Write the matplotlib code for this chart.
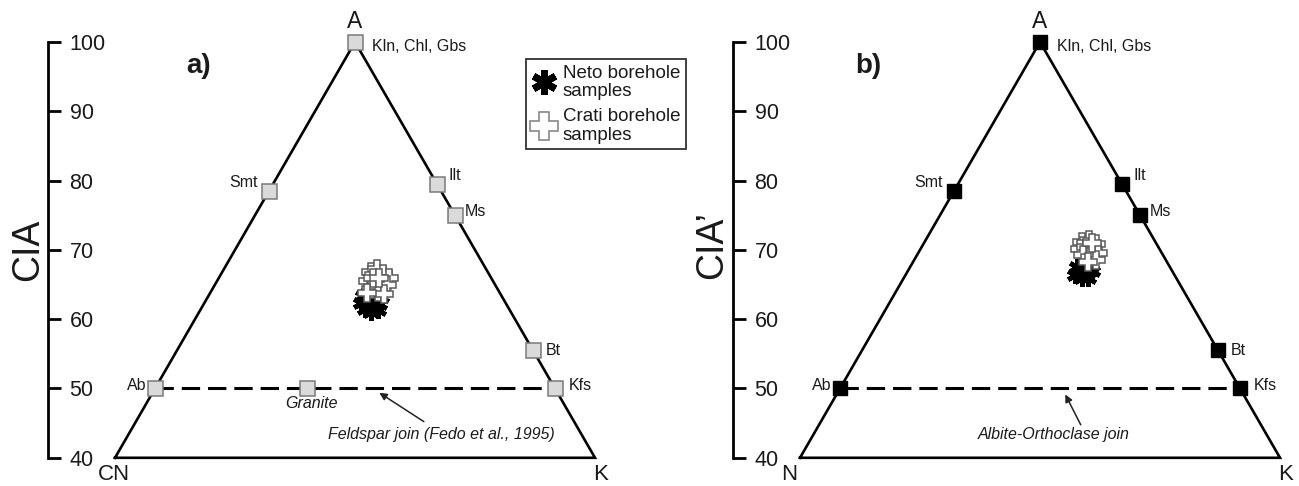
import matplotlib
matplotlib.use('Agg')
import matplotlib.pyplot as plt
from matplotlib.lines import Line2D

plt.rcParams['font.family'] = ['Liberation Sans', 'DejaVu Sans']

# ---------------- data (molar proportions, %) ----------------
# end-member minerals: A = Al2O3 (CIA / CIA'), K = K2O, remainder = CN (or N)
mineral_names = ['Kln, Chl, Gbs', 'Smt', 'Ilt', 'Ms', 'Bt', 'Ab', 'Kfs']
mineral_A = [100.0, 78.5, 79.5, 75.0, 55.5, 50.0, 50.0]
mineral_K = [0.0, 0.0, 20.5, 25.0, 44.5, 0.0, 50.0]
granite_A = [50.0]
granite_K = [19.0]

cia_ticks = [40, 50, 60, 70, 80, 90, 100]

# panel a) A-CN-K
crati_a_A = [66.8, 67.2, 66.5, 66.0, 65.5, 65.2, 64.8, 64.9, 64.3, 63.9, 63.6, 66.0, 65.9, 63.8]
crati_a_K = [18.6, 19.2, 20.3, 21.2, 18.9, 20.0, 21.0, 21.6, 19.8, 20.9, 21.8, 19.3, 20.1, 19.6]
neto_a_A = [63.4, 63.0, 62.8, 63.2, 62.4, 62.1, 61.8, 62.2, 61.4, 61.0, 61.3, 62.6]
neto_a_K = [19.3, 20.3, 21.2, 21.7, 19.6, 20.6, 21.5, 21.9, 20.5, 21.5, 22.2, 20.2]

# panel b) A-N-K
crati_b_A = [71.2, 71.5, 70.9, 70.2, 70.4, 70.0, 69.6, 69.2, 69.0, 68.6, 68.3, 71.0]
crati_b_K = [19.7, 20.4, 21.5, 19.9, 20.6, 21.6, 22.4, 20.8, 21.7, 22.7, 21.8, 21.0]
neto_b_A = [67.6, 67.9, 67.4, 66.8, 66.6, 66.9, 66.0, 65.9, 66.4, 67.2]
neto_b_K = [20.8, 21.5, 22.5, 21.5, 22.4, 23.1, 22.2, 23.1, 21.2, 22.0]


def tern(A, K):
    """ternary (A, K) -> cartesian x, y with y = A"""
    return [k + a / 2.0 for a, k in zip(A, K)], list(A)


# label offsets (points) for minerals
lab_off = {'Kln, Chl, Gbs': (12, -3, 'left'), 'Smt': (-8, 6, 'right'),
           'Ilt': (8, 6.5, 'left'), 'Ms': (7, 3, 'left'), 'Bt': (9, 0, 'left'),
           'Ab': (-6.5, 2, 'right'), 'Kfs': (10, 2, 'left')}

fig = plt.figure(figsize=(12.99, 4.86), dpi=100)
ax_a = fig.add_axes([0, 0, 650 / 1299, 1])
ax_b = fig.add_axes([650 / 1299, 0, 649 / 1299, 1])
ax_a.set_xlim(5.625, 86.875)
ax_b.set_xlim(1.25, 82.375)

TXT = '#1a1a1a'

for ax, panel in ((ax_a, 'a'), (ax_b, 'b')):
    ax.set_ylim(35.93, 106.06)
    ax.patch.set_visible(False)
    for s in ('top', 'bottom', 'left'):
        ax.spines[s].set_visible(False)
    ax.spines['right'].set_position(('data', 11.625))
    ax.spines['right'].set_bounds(40, 100)
    ax.spines['right'].set_linewidth(2.0)
    ax.yaxis.tick_right()
    ax.set_yticks(cia_ticks)
    ax.set_yticklabels([str(t) for t in cia_ticks])
    ax.tick_params(axis='y', direction='out', length=9.5, width=2.0, pad=6,
                   labelsize=15.5, labelcolor=TXT)
    ax.set_xticks([])

    # triangle frame (A = 100 apex, base at A = 40)
    fx, fy = tern([40, 100, 40, 40], [0, 0, 60, 0])
    ax.plot(fx, fy, color='k', lw=1.9, solid_joinstyle='miter', zorder=2)

    # feldspar join (Ab - Kfs)
    jx, jy = tern([50, 50], [0, 50])
    ax.plot(jx, jy, color='k', lw=2.2, dashes=(6, 2.6), zorder=2)

    # end members
    mx, my = tern(mineral_A, mineral_K)
    if panel == 'a':
        ax.plot(mx, my, ls='none', marker='s', ms=10.8, mfc='#dadada', mec='#7a7a7a',
                mew=1.1, zorder=5)
        gx, gy = tern(granite_A, granite_K)
        ax.plot(gx, gy, ls='none', marker='s', ms=10.8, mfc='#dadada', mec='#7a7a7a',
                mew=1.1, zorder=5)
        ax.annotate('Granite', (gx[0], gy[0]), xytext=(3, -10.5), textcoords='offset points',
                    ha='center', va='center', fontsize=11.5, style='italic', color=TXT)
    else:
        ax.plot(mx, my, ls='none', marker='s', ms=10.3, mfc='k', mec='k', zorder=5)
    for name, x, y in zip(mineral_names, mx, my):
        dx, dy, ha = lab_off[name]
        ax.annotate(name, (x, y), xytext=(dx, dy), textcoords='offset points',
                    ha=ha, va='center', fontsize=11.5, color=TXT)

    # apex / corner labels
    ax.annotate('A', (50, 100), xytext=(0, 15), textcoords='offset points',
                ha='center', va='center', fontsize=16.5, color=TXT)
    left_name = 'CN' if panel == 'a' else 'N'
    lx, ly = tern([40], [0])
    rx, ry = tern([40], [60])
    ax.annotate(left_name, (lx[0], ly[0]), xytext=(-1 if panel == 'a' else -8, -12),
                textcoords='offset points', ha='center', va='center', fontsize=16, color=TXT)
    ax.annotate('K', (rx[0], ry[0]), xytext=(4, -12), textcoords='offset points',
                ha='center', va='center', fontsize=16, color=TXT)

# samples
nx, ny = tern(neto_a_A, neto_a_K)
ax_a.plot(nx, ny, ls='none', marker=(6, 2, 0), ms=12, mew=3.4, color='k', zorder=6)
cx, cy = tern(crati_a_A, crati_a_K)
ax_a.plot(cx, cy, ls='none', marker='P', ms=13.5, mfc='white', mec='#5a5a5a', mew=1.1, zorder=7)

nx, ny = tern(neto_b_A, neto_b_K)
ax_b.plot(nx, ny, ls='none', marker=(6, 2, 0), ms=12, mew=3.4, color='k', zorder=6)
cx, cy = tern(crati_b_A, crati_b_K)
ax_b.plot(cx, cy, ls='none', marker='P', ms=13.5, mfc='white', mec='#5a5a5a', mew=1.1, zorder=7)

# axis titles and panel letters
ax_a.text(9.1, 70.0, 'CIA', rotation=90, ha='center', va='center', fontsize=27, color=TXT)
ax_b.text(9.0, 70.7, 'CIA\u2019', rotation=90, ha='center', va='center', fontsize=27, color=TXT)
ax_a.text(30.5, 96.5, 'a)', ha='center', va='center', fontsize=20, fontweight='bold', color=TXT)
ax_b.text(28.5, 96.5, 'b)', ha='center', va='center', fontsize=20, fontweight='bold', color=TXT)

# join annotations
ax_a.annotate('', xy=(52.75, 49.6), xytext=(58.9, 45.0),
              arrowprops=dict(arrowstyle='-|>', lw=1.1, color='#222', mutation_scale=11))
ax_a.text(60.75, 43.3, 'Feldspar join (Fedo et al., 1995)', ha='center', va='center',
          fontsize=11.5, style='italic', color=TXT)
ax_b.annotate('', xy=(53.0, 49.5), xytext=(55.25, 44.4),
              arrowprops=dict(arrowstyle='-|>', lw=1.1, color='#222', mutation_scale=11))
ax_b.text(51.75, 43.3, 'Albite-Orthoclase join', ha='center', va='center',
          fontsize=11.5, style='italic', color=TXT)

# legend
handles = [Line2D([], [], ls='none', marker=(6, 2, 0), ms=18, mew=5, color='k'),
           Line2D([], [], ls='none', marker='P', ms=20, mfc='white', mec='#888888', mew=1.2)]
leg = fig.legend(handles, ['Neto borehole\nsamples', 'Crati borehole\nsamples'],
                 loc='upper left', bbox_to_anchor=(526 / 1299, 1 - 59 / 486),
                 frameon=True, fancybox=False, edgecolor='#333333', framealpha=1,
                 fontsize=13.5, handlelength=1.3, handletextpad=0.35, borderpad=0.3,
                 labelspacing=0.45, borderaxespad=0)
leg.get_frame().set_linewidth(1.3)
for t in leg.get_texts():
    t.set_linespacing(1.1)
    t.set_color(TXT)

fig.savefig('out.png', dpi=100)
